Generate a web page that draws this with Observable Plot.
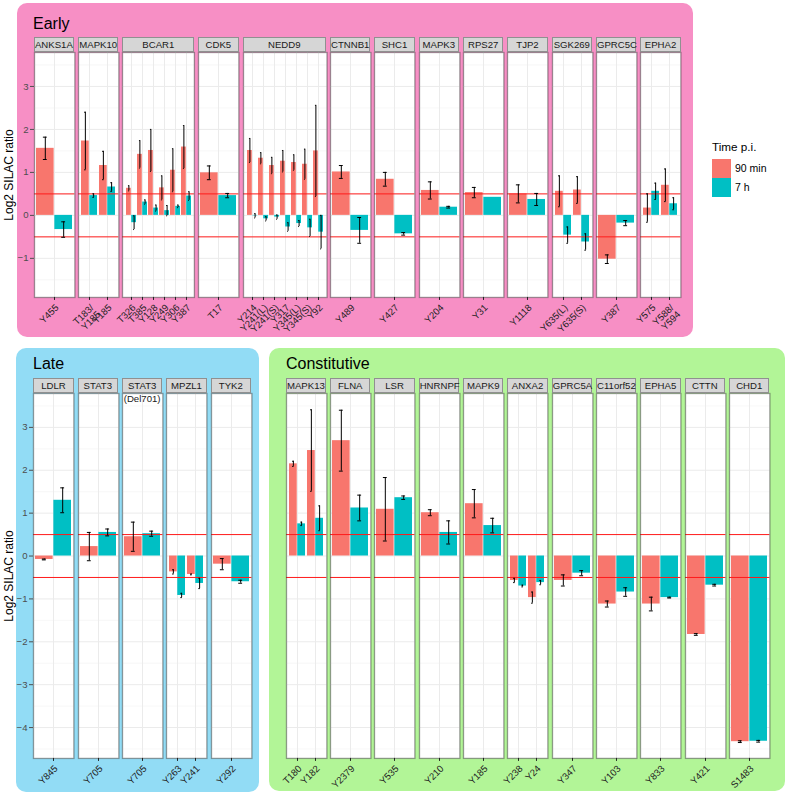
<!DOCTYPE html>
<html><head><meta charset="utf-8">
<script src="https://cdn.jsdelivr.net/npm/d3@7"></script>
<script src="https://cdn.jsdelivr.net/npm/@observablehq/plot@0.6"></script>
<style>
body{margin:0;width:787px;height:794px;position:relative;background:#fff;font-family:"Liberation Sans",Arial,sans-serif;overflow:hidden}
.box{position:absolute;border-radius:10px}
.title{position:absolute;font-size:16px;line-height:16px;color:#000;white-space:nowrap}
.strip{position:absolute;height:15px;background:#d6d6d6;border:1.2px solid rgba(60,60,60,0.45);box-sizing:border-box;font-size:9.6px;text-align:center;line-height:13px;color:#1a1a1a;white-space:pre;overflow:visible}
.facet{position:absolute}
.facet svg{overflow:visible;display:block}
.ytitle{position:absolute;width:120px;margin-left:-60px;text-align:center;transform:rotate(-90deg);font-size:12px;line-height:12px;white-space:nowrap;color:#000}
.leg{position:absolute;white-space:nowrap;color:#000}
</style></head><body>
<script>
// ---------- DATA ----------
const times = ["90 min", "7 h"];
const timeColors = ["#F8766D", "#00BFC4"];

// Early
const earlyGene = ["ANKS1A","MAPK10","MAPK10","BCAR1","BCAR1","BCAR1","BCAR1","BCAR1","BCAR1","CDK5",
  "NEDD9","NEDD9","NEDD9","NEDD9","NEDD9","NEDD9","NEDD9","CTNNB1","SHC1","MAPK3","RPS27","TJP2",
  "SGK269","SGK269","GPRC5C","EPHA2","EPHA2"];
const earlySite = ["Y455","T183/\nY185","Y185","T326","T385","Y128","Y249","Y306","Y387","T17",
  "Y214","Y241(L)","Y241(S)","Y317","Y345(L)","Y345(S)","Y92","Y489","Y427","Y204","Y31","Y1118",
  "Y635(L)","Y635(S)","Y387","Y575","Y588/\nY594"];
const early90 = [1.56,1.73,1.16,0.63,1.42,1.51,0.64,1.05,1.59,0.99,
  1.51,1.33,1.16,1.26,1.23,1.19,1.50,1.01,0.84,0.58,0.53,0.50,
  0.56,0.59,-1.02,0.17,0.70];
const early90Err = [0.26,0.67,0.33,0.06,0.32,0.49,0.28,0.50,0.50,0.16,
  0.28,0.13,0.19,0.25,0.18,0.35,1.06,0.15,0.16,0.20,0.12,0.21,
  0.36,0.31,0.10,0.33,0.38];
const early7h = [-0.33,0.46,0.66,-0.17,0.31,0.17,0.11,0.21,0.45,0.46,
  -0.01,-0.08,-0.04,-0.27,-0.19,-0.29,-0.39,-0.35,-0.43,0.19,0.42,0.37,
  -0.46,-0.62,-0.18,0.56,0.27];
const early7hErr = [0.18,0.04,0.10,0.16,0.05,0.07,0.12,0.03,0.10,0.05,
  0.05,0.05,0.05,0.10,0.07,0.20,0.39,0.30,0.03,0.02,0,0.14,
  0.19,0.19,0.06,0.19,0.14];

// Late
const lateGene = ["LDLR","STAT3","STAT3\n(Del701)","MPZL1","MPZL1","TYK2"];
const lateSite = ["Y845","Y705","Y705","Y263","Y241","Y292"];
const late90 = [-0.08,0.22,0.45,-0.37,-0.43,-0.19];
const late90Err = [0.01,0.33,0.34,0.05,0.01,0.13];
const late7h = [1.30,0.55,0.52,-0.92,-0.64,-0.60];
const late7hErr = [0.29,0.08,0.06,0.05,0.12,0.035];

// Constitutive
const constGene = ["MAPK13","MAPK13","FLNA","LSR","HNRNPF","MAPK9","ANXA2","ANXA2","GPRC5A","C11orf52","EPHA5","CTTN","CHD1"];
const constSite = ["T180","Y182","Y2379","Y535","Y210","Y185","Y238","Y24","Y347","Y103","Y833","Y421","S1483"];
const const90 = [2.15,2.46,2.69,1.09,1.01,1.22,-0.57,-0.97,-0.57,-1.12,-1.12,-1.83,-4.33];
const const90Err = [0.06,0.95,0.71,0.74,0.07,0.33,0.05,0.13,0.13,0.07,0.16,0.02,0.02];
const const7h = [0.75,0.88,1.12,1.36,0.55,0.71,-0.70,-0.62,-0.40,-0.84,-0.97,-0.68,-4.32];
const const7hErr = [0.04,0.29,0.30,0.04,0.27,0.17,0.02,0.05,0.06,0.10,0.01,0.02,0.02];

const topTicks = [-1,0,1,2,3];
const bottomTicks = [-4,-3,-2,-1,0,1,2,3];
const thresholds = [-0.5, 0.5];

// ---------- BUILD ----------
function toRows(gene, site, v90, e90, v7, e7) {
  const out = [];
  gene.forEach((g, i) => {
    out.push({gene: g, site: site[i], time: times[0], value: v90[i], err: e90[i]});
    out.push({gene: g, site: site[i], time: times[1], value: v7[i], err: e7[i]});
  });
  return out;
}

function el(cls, css, text) {
  const d = document.createElement("div");
  d.className = cls;
  Object.assign(d.style, css);
  if (text != null) d.textContent = text;
  document.body.appendChild(d);
  return d;
}

// background boxes and titles
el("box", {left:"16.5px", top:"3px", width:"676.5px", height:"334px", background:"#f78fc5"});
el("box", {left:"16px", top:"348px", width:"243px", height:"443.5px", background:"#92dcf5"});
el("box", {left:"269px", top:"348px", width:"516px", height:"443px", background:"#b2f597"});
el("title", {left:"33px", top:"15.8px"}, "Early");
el("title", {left:"33px", top:"355.5px"}, "Late");
el("title", {left:"286px", top:"355.8px"}, "Constitutive");

const strips = [];

function drawPanel(rows, cfg) {
  const genes = [...new Set(rows.map(d => d.gene))];
  let x = cfg.x0;
  genes.forEach((g, gi) => {
    const data = rows.filter(d => d.gene === g);
    const sites = [...new Set(data.map(d => d.site))];
    const n = sites.length;
    const w = Math.max(40.4, (n + 0.2) * 11.6);
    const pi = 0.1, po = n === 1 ? 0.045 : 0.15;
    const step = w / (n - pi + 2 * po);
    const bw = step * (1 - pi);
    const half = bw / 2;
    const cap = half * 0.25;
    const withAxis = cfg.axis && gi === 0;
    const ml = withAxis ? 34 : 0;
    const lo = d => d.value - d.err, hi = d => d.value + d.err;
    const d90 = data.filter(d => d.time === times[0]);
    const d7 = data.filter(d => d.time === times[1]);
    const e90 = d90.filter(d => d.err > 0), e7 = d7.filter(d => d.err > 0);
    const caps = (arr, center) => [lo, hi].map(acc => Plot.tickY(arr, {
      x: "site", y: acc, insetLeft: center - cap / 2, insetRight: bw - center - cap / 2,
      stroke: "black", strokeWidth: 1
    }));
    const minors = cfg.ticks.map(t => t + 0.5).concat([cfg.ticks[0] - 0.5]);
    const svg = Plot.plot({
      width: w + ml, height: cfg.h + 70,
      marginLeft: ml, marginRight: 0, marginTop: 0, marginBottom: 70,
      x: {type: "band", domain: sites, paddingInner: pi, paddingOuter: po, axis: null},
      y: {domain: cfg.yDomain, axis: null},
      color: {domain: times, range: timeColors},
      style: {fontFamily: "Liberation Sans, Arial, sans-serif", fontSize: "9.6px", overflow: "visible", background: "transparent"},
      marks: [
        Plot.frame({fill: "white", stroke: "none"}),
        Plot.gridY(minors, {stroke: "#f2f2f2", strokeOpacity: 1, strokeWidth: 0.6}),
        Plot.gridY(cfg.ticks, {stroke: "#ebebeb", strokeOpacity: 1, strokeWidth: 1}),
        Plot.gridX(sites, {stroke: "#ebebeb", strokeOpacity: 1, strokeWidth: 1}),
        Plot.barY(d90, {x: "site", y: "value", fill: "time", insetRight: half}),
        Plot.barY(d7, {x: "site", y: "value", fill: "time", insetLeft: half}),
        Plot.ruleY(thresholds, {stroke: "#ff1a1a", strokeWidth: 1}),
        Plot.ruleX(e90, {x: "site", y1: lo, y2: hi, dx: -bw / 4, stroke: "black", strokeWidth: 1}),
        Plot.ruleX(e7, {x: "site", y1: lo, y2: hi, dx: bw / 4, stroke: "black", strokeWidth: 1}),
        ...caps(e90, bw / 4),
        ...caps(e7, 3 * bw / 4),
        Plot.frame({stroke: "#3c3c3c", strokeOpacity: 0.5, strokeWidth: 1.3}),
        Plot.axisX(sites, {tickRotate: -45, textAnchor: "end", lineAnchor: "top", tickSize: 3, tickPadding: 3, fontSize: 9.6, label: null, color: "#222", textStroke: "none"}),
        withAxis ? Plot.axisY(cfg.ticks, {tickSize: 4, tickPadding: 2, fontSize: 9.6, label: null, color: "#4d4d4d"}) : null
      ]
    });
    const holder = el("facet", {left: (x - ml) + "px", top: cfg.plotTop + "px", width: (w + ml) + "px"});
    holder.appendChild(svg);
    strips.push({left: x, top: cfg.plotTop - 15, width: w, label: g});
    x += w + 3.93;
  });
}

const panelTop = {h: 245, plotTop: 52, yDomain: [-1.91, 3.79], ticks: topTicks};
const panelBottom = {h: 365, plotTop: 393, yDomain: [-4.72, 3.79], ticks: bottomTicks};

drawPanel(toRows(earlyGene, earlySite, early90, early90Err, early7h, early7hErr), {...panelTop, x0: 33.7, axis: true});
drawPanel(toRows(lateGene, lateSite, late90, late90Err, late7h, late7hErr), {...panelBottom, x0: 33.3, axis: true});
drawPanel(toRows(constGene, constSite, const90, const90Err, const7h, const7hErr), {...panelBottom, x0: 285.7, axis: false});

strips.forEach(s => el("strip", {left: s.left + "px", top: s.top + "px", width: s.width + "px"}, s.label));

// y titles
el("ytitle", {left: "8.5px", top: (174.5 - 6) + "px"}, "Log2 SILAC ratio");
el("ytitle", {left: "8.5px", top: (575.5 - 6) + "px"}, "Log2 SILAC ratio");

// legend
el("leg", {left: "712px", top: "140px", fontSize: "11.7px", lineHeight: "14px"}, "Time p.i.");
times.forEach((t, i) => {
  el("leg", {left: "712px", top: (159.3 + i * 18.9) + "px", width: "18.5px", height: "18.5px", background: timeColors[i]});
  el("leg", {left: "735px", top: (159.3 + i * 18.9) + "px", fontSize: "10.5px", lineHeight: "18.5px"}, t);
});
</script>
</body></html>
